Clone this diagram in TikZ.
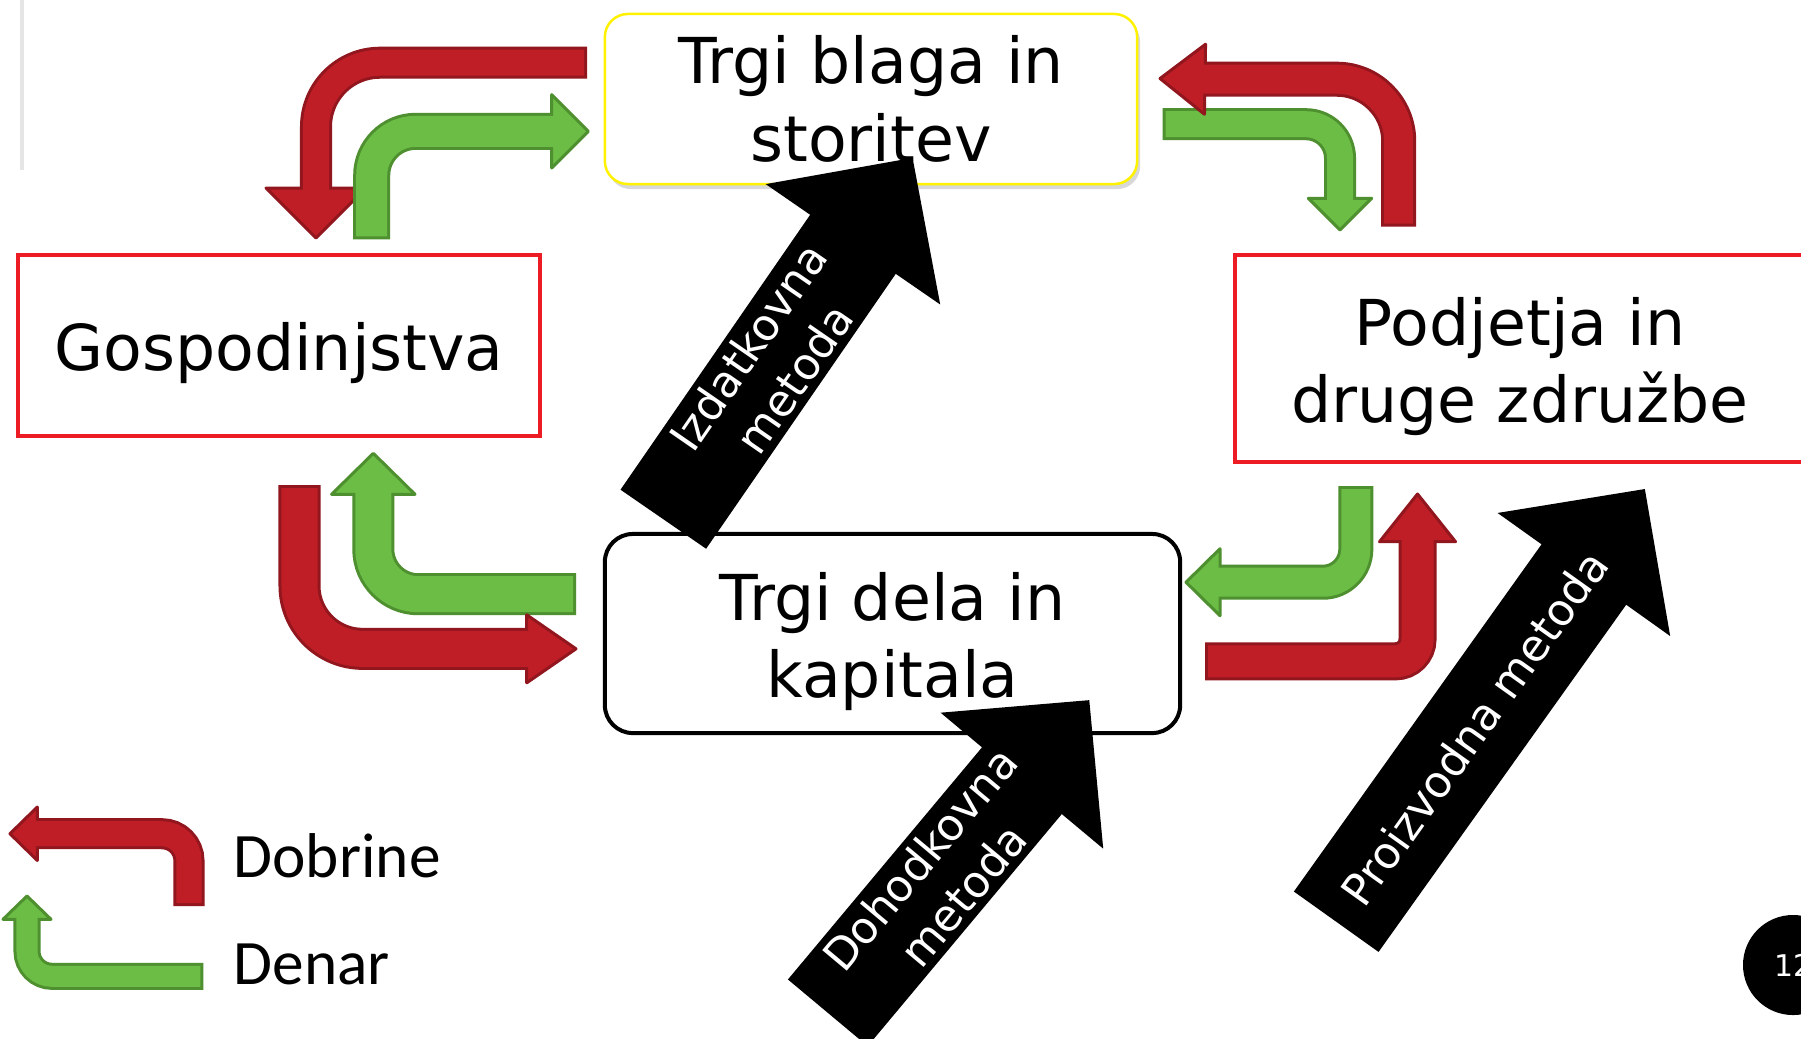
\documentclass[tikz,border=0pt]{standalone}
\usepackage{fontspec}
\setmainfont{DejaVu Sans}
\newfontfamily\legendfont{Carlito}
\usetikzlibrary{calc,shadows}
\definecolor{goodsfill}{RGB}{192,30,38}
\definecolor{goodsline}{RGB}{145,22,30}
\definecolor{moneyfill}{RGB}{108,189,69}
\definecolor{moneyline}{RGB}{78,143,47}
\definecolor{boxred}{RGB}{237,28,36}
\definecolor{boxyellow}{RGB}{255,242,0}

% bent flow arrow: colour, shaft width, head half width, start, bend, head base, tip, bend radius
\newcommand{\flowarrow}[8]{%
  \draw[#1line, line width=#2cm, rounded corners=#8cm] (#4) -- (#5) -- (#6);
  \filldraw[fill=#1fill, draw=#1line, line width=0.03cm, line join=round]
    ($(#6)!#3cm!90:(#7)$) -- (#7) -- ($(#6)!#3cm!-90:(#7)$) -- cycle;
  \draw[#1fill, line width=#2cm-0.06cm, rounded corners=#8cm, shorten <=0.03cm, shorten >=-0.05cm]
    (#4) -- (#5) -- (#6);
}
% black block arrow: name, tail, angle, shaft length, text position, text
\newcommand{\methodarrow}[6]{%
  \begin{scope}[shift={(#2)}, rotate=#3]
    \fill (0,-52) -- (#4,-52) -- (#4,-106) -- ({#4+105},0) -- (#4,106) -- (#4,52) -- (0,52) -- cycle;
    \node[methodtext, rotate=#3] (#1) at (#5,0) {#6};
  \end{scope}
}

\tikzset{
  sector/.style={rectangle, draw=boxred, line width=0.035cm, fill=white},
  market/.style={rectangle, fill=white},
  boxtext/.style={align=center, font=\fontsize{18}{22}\selectfont},
  methodtext/.style={text=white, align=center, inner sep=0pt, font=\fontsize{12.5}{16}\selectfont},
  keytext/.style={anchor=base west, inner sep=0pt, font=\legendfont\fontsize{18}{22}\selectfont}
}

\begin{document}
\begin{tikzpicture}[x=0.01cm,y=-0.01cm]
  \useasboundingbox (0,0) rectangle (1801,1038);
  \clip (0,0) rectangle (1801,1038);
  \fill[white] (0,0) rectangle (1801,1038);
  \draw[black!10, line width=0.03cm] (22,0) -- (22,170);

  % boxes
  \node[market, boxtext, draw=boxyellow, line width=0.025cm, rounded corners=0.23cm,
    drop shadow={shadow xshift=0.03cm, shadow yshift=-0.05cm, opacity=0.3},
    minimum width=5.32cm, minimum height=1.70cm] (goods) at (871,99) {Trgi blaga in\\storitev};
  \node[sector, minimum width=5.22cm, minimum height=1.81cm,
    label={[boxtext, yshift=-0.08cm]center:Gospodinjstva}] (homes) at (279,345.5) {};
  \node[sector, minimum width=5.70cm, minimum height=2.07cm,
    label={[boxtext, yshift=-0.08cm]center:Podjetja in\\druge združbe}] (firms) at (1520,358.5) {};
  \node[market, draw=black, line width=0.04cm, rounded corners=0.28cm,
    minimum width=5.75cm, minimum height=1.99cm,
    label={[boxtext, yshift=-0.08cm]center:Trgi dela in\\kapitala}] (factors) at (892.5,633.5) {};

  % households <-> goods market
  \flowarrow{goods}{0.32}{0.5}{587,62.7}{316,62.7}{316,188}{316,238}{0.64}
  \flowarrow{money}{0.37}{0.367}{371.7,239.3}{371.7,131.3}{551.7,131.3}{588.3,131.3}{0.44}
  % goods market <-> firms
  \flowarrow{money}{0.32}{0.317}{1162.7,124.2}{1340,124.2}{1340,198.3}{1340,230}{0.34}
  \flowarrow{goods}{0.35}{0.35}{1398.7,226.7}{1398.7,79.2}{1205,79.2}{1160,78.5}{0.62}
  % households <-> factor market
  \flowarrow{money}{0.42}{0.417}{576,594.2}{373.3,594.2}{373.3,494.3}{373.3,453.3}{0.45}
  \flowarrow{goods}{0.42}{0.34}{299.5,485}{299.5,648.8}{526.7,648.8}{576,648.8}{0.63}
  % factor market <-> firms
  \flowarrow{money}{0.35}{0.335}{1355.8,486}{1355.8,582.2}{1220,582.2}{1186,582.2}{0.33}
  \flowarrow{goods}{0.38}{0.38}{1205,661.3}{1417.5,661.3}{1417.5,541.7}{1417.5,494}{0.22}

  % methods
  \methodarrow{spend}{663.3,519.2}{55.4}{334}{190}{Izdatkovna\\metoda}
  \methodarrow{income}{827.8,1012.8}{50.1}{302.6}{177}{Dohodkovna\\metoda}
  \methodarrow{output}{1336.2,921.7}{54.5}{426.5}{238}{Proizvodna metoda}

  % legend
  \flowarrow{goods}{0.31}{0.267}{189,906}{189,833.7}{37.3,833.7}{10,833.7}{0.27}
  \flowarrow{money}{0.27}{0.24}{203.3,976.3}{27,976.3}{27,919.3}{27,896}{0.25}
  \node[keytext] (goodskey) at (233,877.3) {Dobrine};
  \node[keytext] (moneykey) at (233,984) {Denar};

  \node[circle, fill=black, minimum size=1cm, inner sep=0pt, text=white,
    font=\fontsize{8.5}{10}\selectfont] (pageno) at (1793,965) {12};
\end{tikzpicture}
\end{document}
